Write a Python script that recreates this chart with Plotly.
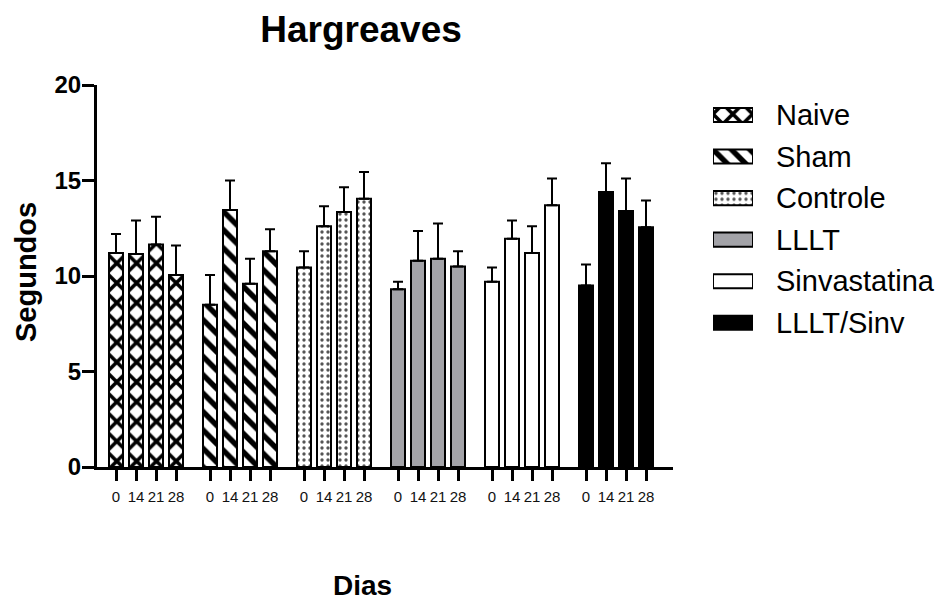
import plotly.graph_objects as go

# ---------------- data ----------------
groups = ["Naive", "Sham", "Controle", "LLLT", "Sinvastatina", "LLLT/Sinv"]
days = ["0", "14", "21", "28"]

naive_mean = [11.2, 11.15, 11.65, 10.05]
naive_sem = [1.0, 1.75, 1.45, 1.55]
sham_mean = [8.5, 13.45, 9.6, 11.3]
sham_sem = [1.55, 1.55, 1.3, 1.15]
controle_mean = [10.45, 12.6, 13.35, 14.05]
controle_sem = [0.85, 1.05, 1.3, 1.4]
lllt_mean = [9.3, 10.8, 10.9, 10.5]
lllt_sem = [0.4, 1.55, 1.85, 0.8]
sinv_mean = [9.7, 11.95, 11.2, 13.7]
sinv_sem = [0.75, 0.95, 1.4, 1.4]
lllt_sinv_mean = [9.5, 14.4, 13.4, 12.55]
lllt_sinv_sem = [1.1, 1.5, 1.7, 1.4]

y_ticks = [0, 5, 10, 15, 20]

means = [naive_mean, sham_mean, controle_mean, lllt_mean, sinv_mean, lllt_sinv_mean]
sems = [naive_sem, sham_sem, controle_sem, lllt_sem, sinv_sem, lllt_sinv_sem]

# ---------------- styles ----------------
fill = ["white", "white", "white", "#a3a3a8", "white", "black"]
pshape = ["x", "\\", ".", "", "", ""]
pfg = ["black", "black", "#555555", "black", "black", "black"]
psize = [14, 13, 6, 8, 8, 8]
psolid = [0.45, 0.42, 0.25, 0.3, 0.3, 0.3]

FONT = "Arial, 'Liberation Sans', sans-serif"
W, H = 946, 603
GROUP_STEP = 4.7

def px_x(p):
    return p / W

def px_y(p):
    return (H - p) / H

def pattern(g):
    return dict(shape=pshape[g], fgcolor=pfg[g], size=psize[g],
                solidity=psolid[g], fgopacity=1, fillmode="replace")

fig = go.Figure()

tickvals, ticktext = [], []
for g, name in enumerate(groups):
    xs = [g * GROUP_STEP + i for i in range(len(days))]
    tickvals += xs
    ticktext += days
    fig.add_trace(go.Bar(
        x=xs, y=means[g], name=name, width=0.7, showlegend=False,
        marker=dict(color=fill[g], line=dict(color="black", width=2),
                    pattern=pattern(g)),
        error_y=dict(type="data", array=sems[g], arrayminus=[0] * len(days),
                     symmetric=False, color="black", thickness=2, width=5),
        xaxis="x", yaxis="y", hoverinfo="skip",
    ))

# legend swatches (own axis), one per series
for g, name in enumerate(groups):
    fig.add_trace(go.Bar(
        y=[name], x=[1], orientation="h", width=0.34, showlegend=False,
        marker=dict(color=fill[g], line=dict(color="black", width=2),
                    pattern=pattern(g)),
        xaxis="x2", yaxis="y2", hoverinfo="skip",
    ))

fig.update_layout(
    width=W, height=H,
    margin=dict(l=0, r=0, t=0, b=0, pad=0, autoexpand=False),
    paper_bgcolor="white", plot_bgcolor="white",
    font=dict(family=FONT, color="black"),
    barmode="overlay",
    title=dict(text="Hargreaves", x=px_x(361), xanchor="center",
               y=px_y(29), yanchor="middle", yref="container", automargin=False,
               font=dict(size=37, weight="bold", family=FONT, color="black")),
    xaxis=dict(domain=[px_x(97), px_x(673)], range=[-0.95, 27.85],
               tickvals=tickvals, ticktext=ticktext, ticks="outside",
               ticklen=11, tickwidth=3, tickcolor="black",
               showline=True, linewidth=3, linecolor="black",
               showgrid=False, zeroline=False, anchor="y", automargin=False,
               tickfont=dict(size=15, family=FONT, color="#111"),
               ticklabelstandoff=3),
    yaxis=dict(domain=[px_y(467), px_y(85)], range=[0, 20], tickvals=y_ticks,
               ticks="outside", ticklen=12, tickwidth=3, tickcolor="black",
               showline=True, linewidth=3, linecolor="black",
               showgrid=False, zeroline=False, anchor="x", automargin=False,
               ticklabelstandoff=-4,
               tickfont=dict(size=24, weight="bold", family=FONT, color="black")),
    xaxis2=dict(domain=[px_x(713), px_x(753)], range=[0, 1], visible=False,
                anchor="y2", fixedrange=True, automargin=False),
    yaxis2=dict(domain=[px_y(343.5), px_y(94.25)], anchor="x2", side="right",
                categoryorder="array", categoryarray=groups, autorange="reversed",
                showline=False, showgrid=False, zeroline=False, ticks="",
                ticklabelstandoff=22, automargin=False,
                tickfont=dict(size=29, family=FONT, color="black")),
    annotations=[
        dict(text="Segundos", x=px_x(26), y=px_y(272), xref="paper", yref="paper",
             textangle=-90, showarrow=False, xanchor="center", yanchor="middle",
             font=dict(size=29, weight="bold", family=FONT, color="black")),
        dict(text="Dias", x=px_x(362), y=px_y(585), xref="paper", yref="paper",
             showarrow=False, xanchor="center", yanchor="middle",
             font=dict(size=28, weight="bold", family=FONT, color="black")),
    ],
)

fig.write_html("out.html")
